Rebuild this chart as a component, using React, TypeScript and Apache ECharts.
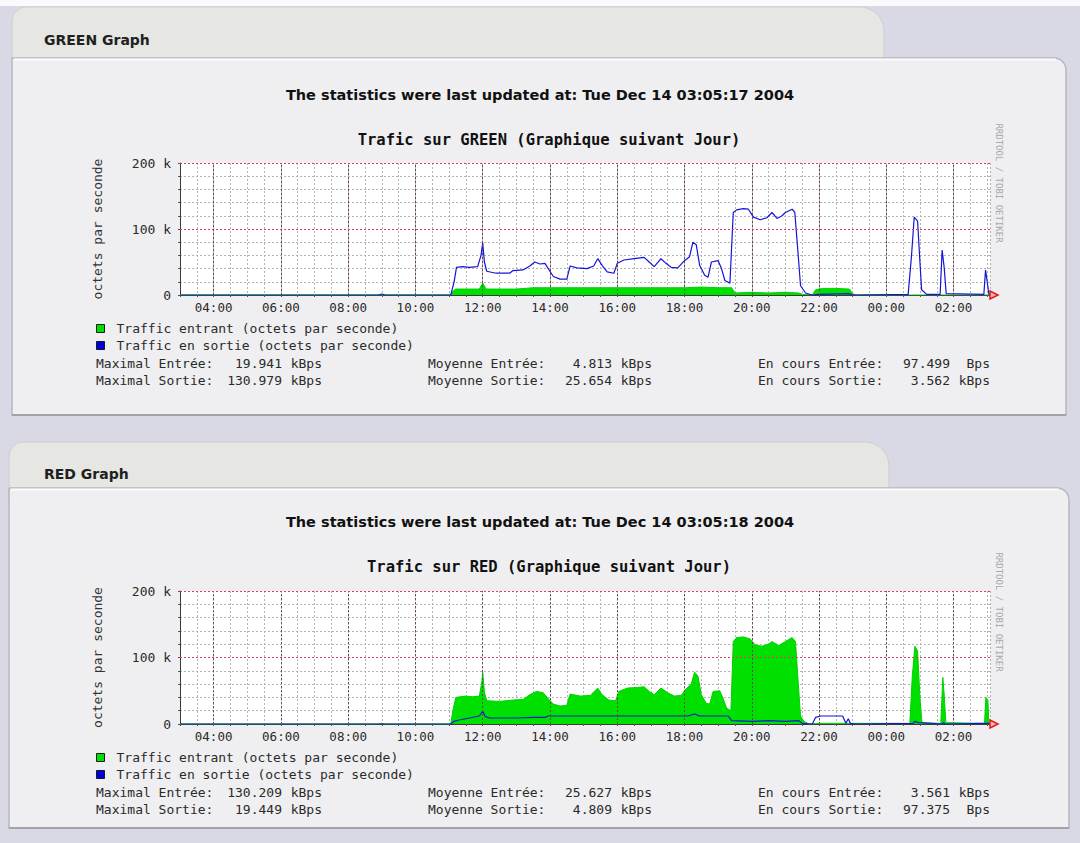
import React, { useEffect, useRef } from "react";
import * as echarts from "echarts";

const MONO = "'DejaVu Sans Mono', 'Liberation Mono', monospace";
const SANS = "'DejaVu Sans', Verdana, sans-serif";

// time axis in hours (03:00 Dec 13 -> 03:05 Dec 14)
const X_MIN = 3;
const X_MAX = 27.083;
const xMajorTicks = [4, 6, 8, 10, 12, 14, 16, 18, 20, 22, 24, 26];
const yMajorTicks = [100, 200];

const IN_NAME = "Traffic entrant (octets par seconde)";
const OUT_NAME = "Traffic en sortie (octets par seconde)";

// GREEN: incoming (green area), kB/s
const greenInT = [3.0, 11.05, 11.12, 11.2, 11.9, 12.0, 12.1, 13.0, 13.5, 14.5, 15.0, 16.0, 17.0, 18.0, 18.5, 19.0, 19.4, 19.5, 20.0, 20.5, 21.0, 21.4, 21.5, 21.8, 21.9, 22.1, 22.5, 22.9, 23.0, 23.1, 27.083];
const greenInV = [0, 0, 6, 9, 9, 18, 9, 9, 11, 11, 11, 11, 11, 11, 12, 11, 11, 3, 4, 3, 4, 3, 1, 0, 8, 10, 10, 9, 2, 0, 0];

// GREEN: outgoing (blue line), kB/s
const greenOutT = [3.0, 8.9, 9.0, 9.1, 11.05, 11.15, 11.22, 11.4, 11.6, 11.85, 11.95, 12.0, 12.05, 12.12, 12.4, 12.8, 12.9, 13.2, 13.4, 13.55, 13.7, 13.85, 14.0, 14.1, 14.3, 14.5, 14.6, 14.8, 15.1, 15.3, 15.42, 15.55, 15.7, 15.9, 16.0, 16.2, 16.5, 16.8, 16.95, 17.1, 17.3, 17.45, 17.6, 17.8, 18.0, 18.15, 18.25, 18.35, 18.45, 18.6, 18.7, 18.8, 19.0, 19.1, 19.2, 19.35, 19.45, 19.55, 19.75, 19.9, 20.05, 20.25, 20.45, 20.6, 20.75, 20.9, 21.0, 21.2, 21.28, 21.35, 21.45, 21.6, 21.8, 22.0, 22.9, 23.0, 24.65, 24.75, 24.83, 24.93, 25.0, 25.05, 25.2, 25.6, 25.66, 25.72, 25.78, 26.9, 26.95, 27.0, 27.05, 27.083];
const greenOutV = [0, 0, 1.5, 0, 0, 20, 42, 43, 42, 43, 60, 79, 50, 36, 33, 33, 37, 38, 44, 50, 47, 48, 36, 28, 24, 24, 44, 41, 40, 44, 55, 45, 35, 33, 48, 53, 55, 57, 50, 43, 55, 48, 42, 41, 52, 58, 80, 76, 45, 30, 27, 50, 52, 40, 22, 18, 125, 129, 131, 130, 118, 114, 117, 125, 116, 120, 125, 130, 125, 80, 14, 3, 0, 1, 2, 0, 1, 60, 118, 112, 50, 8, 1, 1, 68, 42, 2, 1, 38, 20, 1, 1];

// RED: incoming (green area), kB/s
const redInT = [3.0, 8.9, 9.0, 9.1, 11.05, 11.12, 11.2, 11.5, 11.7, 11.9, 11.97, 12.0, 12.05, 12.12, 12.5, 12.9, 13.2, 13.4, 13.6, 13.8, 13.95, 14.1, 14.3, 14.5, 14.6, 14.9, 15.2, 15.42, 15.55, 15.75, 15.95, 16.05, 16.3, 16.6, 16.8, 16.95, 17.1, 17.3, 17.5, 17.7, 17.9, 18.05, 18.2, 18.3, 18.4, 18.5, 18.65, 18.75, 18.85, 19.05, 19.15, 19.25, 19.38, 19.45, 19.55, 19.75, 19.95, 20.1, 20.3, 20.5, 20.6, 20.8, 21.0, 21.2, 21.3, 21.36, 21.45, 21.55, 21.7, 22.0, 23.0, 24.7, 24.77, 24.85, 24.93, 25.0, 25.06, 25.62, 25.68, 25.72, 25.77, 26.92, 26.96, 27.02, 27.05, 27.083];
const redInV = [0, 0, 1, 0, 0, 22, 40, 42, 41, 42, 62, 78, 48, 35, 34, 36, 37, 44, 49, 47, 38, 30, 27, 28, 45, 42, 43, 54, 44, 36, 35, 49, 54, 55, 56, 49, 44, 54, 47, 42, 43, 53, 60, 78, 72, 44, 31, 30, 49, 50, 38, 24, 20, 124, 130, 131, 128, 119, 117, 120, 124, 118, 124, 130, 124, 78, 12, 4, 0, 1, 1, 1, 70, 117, 110, 40, 2, 1, 70, 45, 2, 1, 40, 36, 1, 1];

// RED: outgoing (blue line), kB/s
const redOutT = [3.0, 11.05, 11.15, 11.3, 11.6, 11.9, 12.0, 12.08, 12.2, 13.0, 13.5, 13.85, 13.95, 15.0, 16.0, 17.0, 18.1, 18.3, 18.45, 19.3, 19.4, 20.0, 20.5, 21.0, 21.4, 21.5, 21.8, 21.9, 22.05, 22.7, 22.8, 22.87, 22.93, 23.1, 24.8, 24.85, 24.95, 25.65, 25.7, 25.75, 26.95, 27.083];
const redOutV = [0, 0, 4, 6, 9, 12, 19, 11, 9, 9, 10, 10, 12, 12, 12, 12, 12, 15, 12, 12, 5, 4, 5, 4, 5, 1, 0, 10, 12, 12, 1, 8, 1, 0, 1, 4, 2, 0, 2, 0, 1, 1];

// Summary statistics
const statLabelsIn = ["Maximal Entrée:", "Moyenne Entrée:", "En cours Entrée:"];
const statLabelsOut = ["Maximal Sortie:", "Moyenne Sortie:", "En cours Sortie:"];
const greenStatsIn = ["19.941", "4.813", "97.499"];
const greenUnitsIn = ["kBps", "kBps", "Bps"];
const greenStatsOut = ["130.979", "25.654", "3.562"];
const greenUnitsOut = ["kBps", "kBps", "kBps"];
const redStatsIn = ["130.209", "25.627", "3.561"];
const redUnitsIn = ["kBps", "kBps", "kBps"];
const redStatsOut = ["19.449", "4.809", "97.375"];
const redUnitsOut = ["kBps", "kBps", "Bps"];

const panelNames = ["GREEN Graph", "RED Graph"];
const updatedTexts = [
  "The statistics were last updated at: Tue Dec 14 03:05:17 2004",
  "The statistics were last updated at: Tue Dec 14 03:05:18 2004",
];
const chartTitles = [
  "Trafic sur GREEN (Graphique suivant Jour)",
  "Trafic sur RED (Graphique suivant Jour)",
];

const pairs = (t: number[], v: number[]) => t.map((x, i) => [x, v[i]]);

const GREEN = "#00e000";
const BLUE = "#1414d8";

function buildOption() {
  const panels = [
    {
      tab: { x: 12, y: 7, w: 872 }, body: { x: 12, y: 58, w: 1054, h: 357 },
      head: 40, upd: 95, title: 140, gridTop: 163, gridH: 132,
      legendTop: 322, statY: [363, 380], watermarkY: 183,
      statsIn: greenStatsIn, unitsIn: greenUnitsIn, statsOut: greenStatsOut, unitsOut: greenUnitsOut,
      inData: pairs(greenInT, greenInV), outData: pairs(greenOutT, greenOutV),
    },
    {
      tab: { x: 9, y: 442, w: 880 }, body: { x: 9, y: 488, w: 1060, h: 340 },
      head: 474, upd: 522, title: 567, gridTop: 591, gridH: 133,
      legendTop: 751, statY: [792, 809], watermarkY: 612,
      statsIn: redStatsIn, unitsIn: redUnitsIn, statsOut: redStatsOut, unitsOut: redUnitsOut,
      inData: pairs(redInT, redInV), outData: pairs(redOutT, redOutV),
    },
  ];

  const graphics: any[] = [
    { type: "rect", z: -10, shape: { x: 0, y: 0, width: 1080, height: 6 }, style: { fill: "#fafafc" }, silent: true },
  ];
  const textEl = (text: string, x: number, y: number, font: string, align = "left", fill = "#1a1a1a", extra: any = {}) => ({
    type: "text", z: 10, x, y, silent: true, ...extra,
    style: { text, font, fill, align, verticalAlign: "middle", textAlign: align, textVerticalAlign: "middle" },
  });

  const colLabelX = [96, 428, 758];
  const colUnitRight = [322, 652, 990];

  panels.forEach((p, i) => {
    graphics.push({
      type: "rect", z: -9, silent: true,
      shape: { x: p.tab.x, y: p.tab.y, width: p.tab.w, height: 60, r: [14, 24, 0, 0] },
      style: { fill: "#e6e6e2", stroke: "#cdcdd6", lineWidth: 1 },
    });
    graphics.push({
      type: "rect", z: -8, silent: true,
      shape: { x: p.body.x, y: p.body.y, width: p.body.w, height: p.body.h, r: [0, 12, 0, 0] },
      style: { fill: "#efeff1", stroke: "#b6b6c0", lineWidth: 1.5 },
    });
    graphics.push({
      type: "line", z: -7, silent: true,
      shape: { x1: p.body.x + 2, y1: p.body.y + 1.5, x2: p.body.x + p.body.w - 10, y2: p.body.y + 1.5 },
      style: { stroke: "#fbfbfb", lineWidth: 2 },
    });
    graphics.push({
      type: "line", z: -7, silent: true,
      shape: { x1: p.body.x, y1: p.body.y + p.body.h, x2: p.body.x + p.body.w, y2: p.body.y + p.body.h },
      style: { stroke: "#a2a2ac", lineWidth: 2 },
    });
    graphics.push(textEl(panelNames[i], 44, p.head, `bold 14px ${SANS}`, "left", "#202020"));
    graphics.push(textEl(updatedTexts[i], 540, p.upd, `bold 14.5px ${SANS}`, "center", "#111"));
    graphics.push(textEl(chartTitles[i], 549, p.title, `bold 15.5px ${MONO}`, "center", "#111"));
    graphics.push(textEl("RRDTOOL / TOBI OETIKER", 999, p.watermarkY, `9px ${MONO}`, "center", "#a8a8a8", { rotation: -Math.PI / 2 }));

    for (let c = 0; c < 3; c++) {
      const rows = [
        [statLabelsIn[c], p.statsIn[c], p.unitsIn[c]],
        [statLabelsOut[c], p.statsOut[c], p.unitsOut[c]],
      ];
      rows.forEach((r, ri) => {
        const y = p.statY[ri];
        graphics.push(textEl(r[0], colLabelX[c], y, `13px ${MONO}`, "left", "#2a2a2a"));
        graphics.push(textEl(r[2], colUnitRight[c], y, `13px ${MONO}`, "right", "#2a2a2a"));
        graphics.push(textEl(r[1], colUnitRight[c] - 40, y, `13px ${MONO}`, "right", "#2a2a2a"));
      });
    }
  });

  const grid = panels.map((p) => ({
    left: 180, top: p.gridTop, width: 810, height: p.gridH,
    show: true, backgroundColor: "#ffffff", borderWidth: 0,
  }));

  const xAxis = panels.map((_, i) => ({
    type: "value", gridIndex: i, min: X_MIN, max: X_MAX, interval: 0.5,
    axisLine: { show: true, onZero: false, lineStyle: { color: "#3a3a3a", width: 1 } },
    axisTick: { show: true, length: 2, lineStyle: { color: "#555" } },
    axisLabel: {
      margin: 6, fontFamily: MONO, fontSize: 12.5, color: "#2a2a2a",
      showMinLabel: true, showMaxLabel: true,
      formatter: (v: number) => {
        const r = Math.round(v * 1000) / 1000;
        return Number.isInteger(r) && r % 2 === 0 ? String(r % 24).padStart(2, "0") + ":00" : "";
      },
    },
    splitLine: { show: true, lineStyle: { color: "#b4b4b4", type: [2, 2], width: 1 } },
  }));

  const yAxis = panels.map((_, i) => ({
    type: "value", gridIndex: i, min: 0, max: 200, interval: 20,
    name: "octets par seconde", nameLocation: "middle", nameGap: 76,
    nameTextStyle: { fontFamily: MONO, fontSize: 13, color: "#333" },
    axisLine: { show: true, lineStyle: { color: "#3a3a3a", width: 1 } },
    axisTick: { show: true, length: 2, lineStyle: { color: "#555" } },
    axisLabel: {
      margin: 9, fontFamily: MONO, fontSize: 13, color: "#2a2a2a",
      formatter: (v: number) => (v === 0 ? "0" : v % 100 === 0 ? `${v} k` : ""),
    },
    splitLine: { show: true, lineStyle: { color: "#b4b4b4", type: [2, 2], width: 1 } },
  }));

  const series: any[] = [];
  panels.forEach((p, i) => {
    series.push({
      name: IN_NAME, type: "line", xAxisIndex: i, yAxisIndex: i,
      data: p.inData, showSymbol: false, symbol: "none", z: 2,
      itemStyle: { color: GREEN },
      lineStyle: { color: "#00d000", width: 1 },
      areaStyle: { color: GREEN, opacity: 1 },
      emphasis: { disabled: true },
    });
    series.push({
      name: OUT_NAME, type: "line", xAxisIndex: i, yAxisIndex: i,
      data: p.outData, showSymbol: false, symbol: "none", z: 3,
      itemStyle: { color: BLUE },
      lineStyle: { color: BLUE, width: 1.2 },
      emphasis: { disabled: true },
      markLine: {
        silent: true, symbol: ["none", "none"], animation: false,
        label: { show: false },
        emphasis: { disabled: true },
        data: [
          ...xMajorTicks.map((x) => ({ xAxis: x, lineStyle: { color: "#6e4654", type: [2, 2], width: 1 } })),
          ...yMajorTicks.map((y) => ({ yAxis: y, lineStyle: { color: "#d8405e", type: [2, 2], width: 1 } })),
        ],
      },
      markPoint: {
        silent: true, animation: false,
        data: [{
          coord: [X_MAX, 0], symbol: "triangle", symbolSize: 8, symbolRotate: -90, symbolOffset: [4, 0],
          itemStyle: { color: "#f6b4b4", borderColor: "#e01c1c", borderWidth: 1.5 },
          label: { show: false },
        }],
      },
    });
  });

  const legend = panels.map((p) => ({
    orient: "vertical", left: 96, top: p.legendTop, padding: 0,
    itemWidth: 8, itemHeight: 8, itemGap: 4, selectedMode: false,
    icon: "rect",
    textStyle: { fontFamily: MONO, fontSize: 13, color: "#2a2a2a", lineHeight: 13, padding: [0, 0, 0, 7] },
    data: [
      { name: IN_NAME, icon: "rect", itemStyle: { color: GREEN, borderColor: "#1a1a1a", borderWidth: 1 } },
      { name: OUT_NAME, icon: "rect", itemStyle: { color: "#0000e0", borderColor: "#1a1a1a", borderWidth: 1 } },
    ],
  }));

  return {
    animation: false,
    backgroundColor: "#d9d9e6",
    grid, xAxis, yAxis, series, legend,
    graphic: { elements: graphics },
    tooltip: { show: false },
  };
}

export default function App() {
  const ref = useRef<HTMLDivElement>(null);
  useEffect(() => {
    if (!ref.current) return;
    const chart = echarts.init(ref.current, null, { renderer: "svg" });
    chart.setOption(buildOption() as any);
    return () => chart.dispose();
  }, []);
  return (
    <div
      ref={ref}
      style={{ position: "absolute", left: 0, top: 0, width: 1080, height: 843 }}
    />
  );
}
